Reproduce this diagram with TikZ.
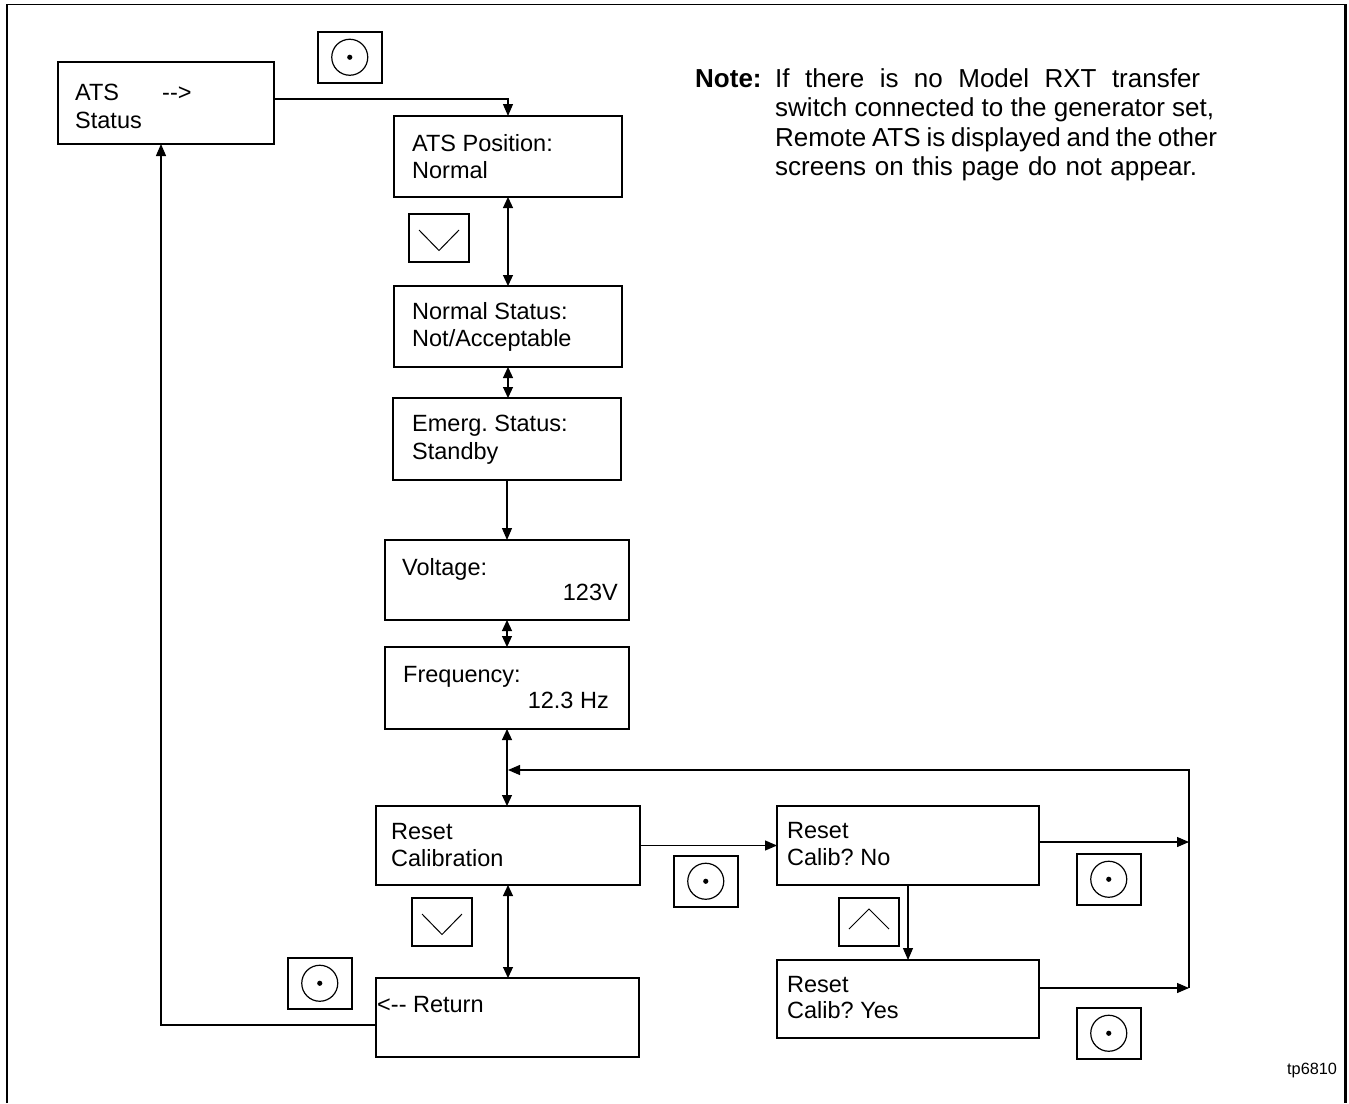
\documentclass[tikz,border=0pt]{standalone}
\usepackage{fontspec}
\setmainfont{Liberation Sans}
\usetikzlibrary{arrows.meta}
\frenchspacing
\begin{document}
\begin{tikzpicture}[x=1pt,y=-1pt,
  scrbox/.style={draw=black, line width=1.3pt, anchor=north west, inner sep=0pt, outer sep=0pt},
  txt/.style={anchor=base west, inner sep=0pt, font=\fontsize{23.5}{27}\selectfont},
  txtr/.style={anchor=base east, inner sep=0pt, font=\fontsize{23.5}{27}\selectfont},
  notetxt/.style={anchor=base west, inner sep=0pt, font=\fontsize{26}{29.5}\selectfont},
  conn/.style={line width=1.2pt, -{Triangle[length=12pt,width=10pt]}},
  dconn/.style={line width=1.2pt, {Triangle[length=11pt,width=10pt]}-{Triangle[length=11pt,width=10pt]}},
  selbtn/.style={draw=black, line width=1.5pt, anchor=north west, minimum width=64pt, minimum height=51pt, inner sep=0pt,
    path picture={\draw[line width=1.2pt] (path picture bounding box.center) circle[radius=18pt];
      \fill (path picture bounding box.center) circle[radius=2.6pt];}},
  dnbtn/.style={draw=black, line width=2pt, anchor=north west, minimum width=60pt, minimum height=48pt, inner sep=0pt,
    path picture={\draw[line width=1pt, shift={(path picture bounding box.center)}] (-20,-8) -- (0,12.5) -- (20,-8);}},
  upbtn/.style={draw=black, line width=2pt, anchor=north west, minimum width=60pt, minimum height=48pt, inner sep=0pt,
    path picture={\draw[line width=1pt, shift={(path picture bounding box.center)}] (-20,7) -- (0,-13) -- (20,7);}},
]
\useasboundingbox (0,0) rectangle (1349,1103);

% outer frame (open at the bottom)
\draw[line width=1.5pt] (6,4.5) -- (1346,4.5);
\draw[line width=2.5pt] (7,1103) -- (7,4);
\draw[line width=2.5pt] (1345.5,4) -- (1345.5,1103);

% screens
\node[scrbox, minimum width=216pt, minimum height=82pt] (ats) at (58,62) {};
\node[scrbox, minimum width=228pt, minimum height=81pt] (pos) at (394,116) {};
\node[scrbox, minimum width=228pt, minimum height=81pt] (nstat) at (394,286) {};
\node[scrbox, minimum width=228pt, minimum height=82pt] (estat) at (393,398) {};
\node[scrbox, minimum width=244pt, minimum height=80pt] (volt) at (385,540) {};
\node[scrbox, minimum width=244pt, minimum height=82pt] (freq) at (385,647) {};
\node[scrbox, minimum width=264pt, minimum height=79pt] (rcal) at (376,806) {};
\node[scrbox, minimum width=263pt, minimum height=79pt] (ret) at (376,978) {};
\node[scrbox, minimum width=262pt, minimum height=79pt] (rno) at (777,806) {};
\node[scrbox, minimum width=262pt, minimum height=78pt] (ryes) at (777,960) {};

% screen texts
\node[txt] (t1a) at (75,100) {ATS};
\node[txt] (t1b) at (162,100) {-{}-{}>};
\node[txt] (t1c) at (75,128) {Status};
\node[txt] (t2a) at (412,151) {ATS Position:};
\node[txt] (t2b) at (412,178) {Normal};
\node[txt] (t3a) at (412,319) {Normal Status:};
\node[txt] (t3b) at (412,346) {Not/Acceptable};
\node[txt] (t4a) at (412,431) {Emerg. Status:};
\node[txt] (t4b) at (412,459) {Standby};
\node[txt] (t5a) at (402,575) {Voltage:};
\node[txtr] (t5b) at (618,600) {123V};
\node[txt] (t6a) at (403,682) {Frequency:};
\node[txtr] (t6b) at (609,708) {12.3 Hz};
\node[txt] (t7a) at (391,839) {Reset};
\node[txt] (t7b) at (391,866) {Calibration};
\node[txt] (t8a) at (377,1012) {<-{}- Return};
\node[txt] (t9a) at (787,838) {Reset};
\node[txt] (t9b) at (787,865) {Calib? No};
\node[txt] (t10a) at (787,992) {Reset};
\node[txt] (t10b) at (787,1018) {Calib? Yes};

% buttons
\node[selbtn] (b1) at (317,31) {};
\node[dnbtn] (b2) at (408,213) {};
\node[selbtn] (b3) at (673,855) {};
\node[dnbtn] (b4) at (411,897) {};
\node[selbtn] (b5) at (287,957) {};
\node[upbtn] (b6) at (838,897) {};
\node[selbtn] (b7) at (1076,853) {};
\node[selbtn] (b8) at (1076,1007) {};

% note
\node[notetxt, font=\fontsize{26}{29.5}\selectfont\bfseries] (nt0) at (695,87) {Note:};
\node[notetxt] (nt1) at (775,87) {\hbox to 425pt{If\hfill there\hfill is\hfill no\hfill Model\hfill RXT\hfill transfer}};
\node[notetxt] (nt2) at (775,116) {\hbox to 439pt{switch\hfill connected\hfill to\hfill the\hfill generator\hfill set,}};
\node[notetxt] (nt3) at (775,146) {\hbox to 442pt{Remote\hfill ATS\hfill is\hfill displayed\hfill and\hfill the\hfill other}};
\node[notetxt] (nt4) at (775,175) {\hbox to 422pt{screens\hfill on\hfill this\hfill page\hfill do\hfill not\hfill appear.}};

\node[anchor=base west, inner sep=0pt, font=\fontsize{16.3}{19}\selectfont] (tp) at (1287,1074) {tp6810};

% connectors
\draw[conn] ([yshift=4pt]ats.east) -| (pos.north);
\draw[dconn] (pos.south) -- (pos.south |- nstat.north);
\draw[dconn] (nstat.south) -- (nstat.south |- estat.north);
\draw[conn] (estat.south) -- (estat.south |- volt.north);
\draw[dconn] (volt.south) -- (volt.south |- freq.north);
\draw[dconn] (freq.south) -- (freq.south |- rcal.north);
\draw[conn] (rcal.east) -- (rcal.east -| rno.west);
\draw[dconn] (rcal.south) -- (rcal.south |- ret.north);
\draw[conn] ([yshift=-7.5pt]ret.west) -| ([xshift=-5pt]ats.south);
\draw[conn] (rno.south) -- (rno.south |- ryes.north);

\coordinate (rtop) at (1189,770);
\coordinate (jn) at (508,770);
\coordinate (rnoout) at ([yshift=3.5pt]rno.east);
\coordinate (ryesout) at ([yshift=11pt]ryes.east);
\coordinate (rbot) at (ryesout -| rtop);
\draw[conn] (rnoout) -- (rnoout -| rtop);
\draw[conn] (ryesout) -- (rbot);
\draw[conn] (rbot) -- (rtop) -- (jn);
\end{tikzpicture}
\end{document}
